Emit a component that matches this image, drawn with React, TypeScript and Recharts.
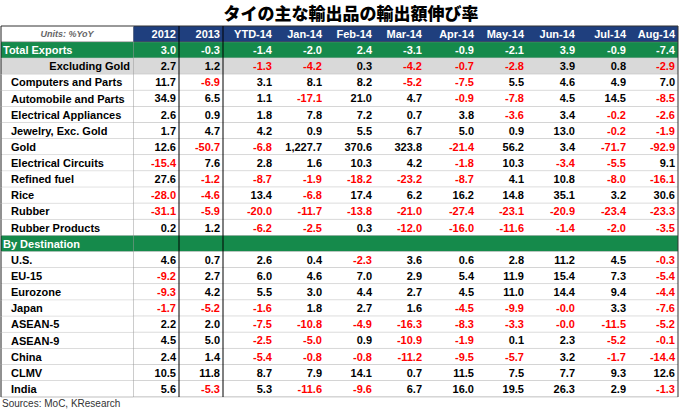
import { BarChart, Bar, XAxis, YAxis, ReferenceLine } from 'recharts';

// column headers
const columns = ['2012', '2013', 'YTD-14', 'Jan-14', 'Feb-14', 'Mar-14', 'Apr-14', 'May-14', 'Jun-14', 'Jul-14', 'Aug-14'];

// row values (%YoY), one array per row
const totalExports = [3.0, -0.3, -1.4, -2.0, 2.4, -3.1, -0.9, -2.1, 3.9, -0.9, -7.4];
const excludingGold = [2.7, 1.2, -1.3, -4.2, 0.3, -4.2, -0.7, -2.8, 3.9, 0.8, -2.9];
const computers = [11.7, -6.9, 3.1, 8.1, 8.2, -5.2, -7.5, 5.5, 4.6, 4.9, 7.0];
const automobile = [34.9, 6.5, 1.1, -17.1, 21.0, 4.7, -0.9, -7.8, 4.5, 14.5, -8.5];
const electricalAppliances = [2.6, 0.9, 1.8, 7.8, 7.2, 0.7, 3.8, -3.6, 3.4, -0.2, -2.6];
const jewelry = [1.7, 4.7, 4.2, 0.9, 5.5, 6.7, 5.0, 0.9, 13.0, -0.2, -1.9];
const gold = [12.6, -50.7, -6.8, 1227.7, 370.6, 323.8, -21.4, 56.2, 3.4, -71.7, -92.9];
const electricalCircuits = [-15.4, 7.6, 2.8, 1.6, 10.3, 4.2, -1.8, 10.3, -3.4, -5.5, 9.1];
const refinedFuel = [27.6, -1.2, -8.7, -1.9, -18.2, -23.2, -8.7, 4.1, 10.8, -8.0, -16.1];
const rice = [-28.0, -4.6, 13.4, -6.8, 17.4, 6.2, 16.2, 14.8, 35.1, 3.2, 30.6];
const rubber = [-31.1, -5.9, -20.0, -11.7, -13.8, -21.0, -27.4, -23.1, -20.9, -23.4, -23.3];
const rubberProducts = [0.2, 1.2, -6.2, -2.5, 0.3, -12.0, -16.0, -11.6, -1.4, -2.0, -3.5];
const us = [4.6, 0.7, 2.6, 0.4, -2.3, 3.6, 0.6, 2.8, 11.2, 4.5, -0.3];
const eu15 = [-9.2, 2.7, 6.0, 4.6, 7.0, 2.9, 5.4, 11.9, 15.4, 7.3, -5.4];
const eurozone = [-9.3, 4.2, 5.5, 3.0, 4.4, 2.7, 4.5, 11.0, 14.4, 9.4, -4.4];
const japan = [-1.7, -5.2, -1.6, 1.8, 2.7, 1.6, -4.5, -9.9, -0.0, 3.3, -7.6];
const asean5 = [2.2, 2.0, -7.5, -10.8, -4.9, -16.3, -8.3, -3.3, -0.0, -11.5, -5.2];
const asean9 = [4.5, 5.0, -2.5, -5.0, 0.9, -10.9, -1.9, 0.1, 2.3, -5.2, -0.1];
const china = [2.4, 1.4, -5.4, -0.8, -0.8, -11.2, -9.5, -5.7, 3.2, -1.7, -14.4];
const clmv = [10.5, 11.8, 8.7, 7.9, 14.1, 0.7, 11.5, 7.5, 7.7, 9.3, 12.6];
const india = [5.6, -5.3, 5.3, -11.6, -9.6, 6.7, 16.0, 19.5, 26.3, 2.9, -1.3];

// column widths in px (style)
const COL_W = [46, 44, 52, 50, 50, 50, 52, 50, 51, 51, 49];
const TOTAL_W = COL_W.reduce((a, b) => a + b, 0);
const TOP = 26;
const BOTTOM = 12;
const ROW_COUNT = 23;
const ROW_H = (409 - TOP - BOTTOM) / ROW_COUNT;
const LABEL_W = 132;
const LEFT = 1;

const NAVY = '#1f3f7e';
const GREEN = '#158a4b';
const GREY = '#d9d9d9';
const LINE = '#bfbfbf';
const FONT = '"Liberation Sans", Arial, sans-serif';

type Kind = 'header' | 'total' | 'sub' | 'item' | 'section';
type Row = { label: string; kind: Kind; values: number[] };

const rows: Row[] = [
  { label: 'Units: %YoY', kind: 'header', values: [] },
  { label: 'Total Exports', kind: 'total', values: totalExports },
  { label: 'Excluding Gold', kind: 'sub', values: excludingGold },
  { label: 'Computers and Parts', kind: 'item', values: computers },
  { label: 'Automobile and Parts', kind: 'item', values: automobile },
  { label: 'Electrical Appliances', kind: 'item', values: electricalAppliances },
  { label: 'Jewelry, Exc. Gold', kind: 'item', values: jewelry },
  { label: 'Gold', kind: 'item', values: gold },
  { label: 'Electrical Circuits', kind: 'item', values: electricalCircuits },
  { label: 'Refined fuel', kind: 'item', values: refinedFuel },
  { label: 'Rice', kind: 'item', values: rice },
  { label: 'Rubber', kind: 'item', values: rubber },
  { label: 'Rubber Products', kind: 'item', values: rubberProducts },
  { label: 'By Destination', kind: 'section', values: [] },
  { label: 'U.S.', kind: 'item', values: us },
  { label: 'EU-15', kind: 'item', values: eu15 },
  { label: 'Eurozone', kind: 'item', values: eurozone },
  { label: 'Japan', kind: 'item', values: japan },
  { label: 'ASEAN-5', kind: 'item', values: asean5 },
  { label: 'ASEAN-9', kind: 'item', values: asean9 },
  { label: 'China', kind: 'item', values: china },
  { label: 'CLMV', kind: 'item', values: clmv },
  { label: 'India', kind: 'item', values: india },
];

// each column is one stacked bar segment
const tableData = rows.map((r) => {
  const o: any = { ...r };
  columns.forEach((_, i) => (o['w' + i] = COL_W[i]));
  return o;
});

const isNeg = (v: number) => v < 0 || Object.is(v, -0);
const fmt = (v: number) =>
  (isNeg(v) ? '-' : '') +
  Math.abs(v).toLocaleString('en-US', { minimumFractionDigits: 1, maximumFractionDigits: 1 });

const rowFill = (k: Kind) =>
  k === 'header' ? NAVY : k === 'total' || k === 'section' ? GREEN : k === 'sub' ? GREY : '#fff';

function renderCell(p: any, col: number) {
  const { x, y, width, height, payload } = p;
  const kind: Kind = payload.kind;
  let text = '';
  let color = '#000';
  if (kind === 'header') {
    text = columns[col];
    color = '#fff';
  } else if (kind !== 'section') {
    const v = payload.values[col];
    text = fmt(v);
    color = kind === 'total' ? '#fff' : isNeg(v) ? '#ff0000' : '#000';
  }
  return (
    <g>
      <rect x={x} y={y} width={width} height={height} fill={rowFill(kind)} />
      <line x1={x} x2={x + width} y1={y + height} y2={y + height} stroke={kind === 'header' ? '#555' : LINE} />
      {kind === 'header' && <line x1={x} x2={x + width} y1={y} y2={y} stroke="#333" />}
      {text && (
        <text
          x={x + width - 3}
          y={y + height / 2}
          dy="0.36em"
          textAnchor="end"
          fill={color}
          fontFamily={FONT}
          fontSize={11}
          fontWeight="bold"
        >
          {text}
        </text>
      )}
    </g>
  );
}

function LabelTick(p: any) {
  const row = rows[p.index];
  if (!row) return null;
  const top = p.y - ROW_H / 2;
  const kind = row.kind;
  let tx = LEFT + 10;
  let anchor: 'start' | 'end' | 'middle' = 'start';
  let color = '#000';
  if (kind === 'total' || kind === 'section') {
    tx = LEFT + 2;
    color = '#fff';
  } else if (kind === 'sub') {
    tx = LEFT + LABEL_W - 3;
    anchor = 'end';
  } else if (kind === 'header') {
    tx = LEFT + LABEL_W / 2;
    anchor = 'middle';
    color = '#666';
  }
  return (
    <g>
      <rect x={LEFT} y={top} width={LABEL_W} height={ROW_H} fill={kind === 'header' ? '#fff' : rowFill(kind)} />
      <line x1={LEFT} x2={LEFT + LABEL_W} y1={top + ROW_H} y2={top + ROW_H} stroke={kind === 'header' ? '#555' : LINE} />
      {kind === 'header' && <line x1={LEFT} x2={LEFT + LABEL_W} y1={top} y2={top} stroke="#333" />}
      <line x1={LEFT} x2={LEFT} y1={top} y2={top + ROW_H} stroke="#222" />
      <text
        x={tx}
        y={p.y}
        dy="0.36em"
        textAnchor={anchor}
        fill={color}
        fontFamily={FONT}
        fontSize={kind === 'header' ? 9 : 11}
        fontWeight="bold"
        fontStyle={kind === 'header' ? 'italic' : 'normal'}
      >
        {row.label}
      </text>
    </g>
  );
}

export default function App() {
  return (
    <div
      style={{
        position: 'absolute',
        left: 0,
        top: 0,
        width: 680,
        height: 409,
        overflow: 'hidden',
        background: '#fff',
      }}
    >
      <div
        style={{
          position: 'absolute',
          left: 180,
          width: 342,
          top: 2,
          textAlign: 'center',
          fontFamily: '"Noto Sans CJK JP", sans-serif',
          fontWeight: 900,
          fontSize: 17,
          lineHeight: '22px',
          color: '#000',
        }}
      >
        タイの主な輸出品の輸出額伸び率
      </div>
      <BarChart
        width={680}
        height={409}
        data={tableData}
        layout="vertical"
        barCategoryGap={0}
        barGap={0}
        margin={{ top: TOP, right: 680 - LEFT - LABEL_W - TOTAL_W, bottom: BOTTOM, left: LEFT }}
      >
        <XAxis type="number" hide domain={[0, TOTAL_W]} />
        <YAxis
          type="category"
          dataKey="label"
          width={LABEL_W}
          interval={0}
          tickLine={false}
          axisLine={false}
          tick={(p: any) => <LabelTick {...p} />}
        />
        {columns.map((c, i) => (
          <Bar
            key={c}
            dataKey={'w' + i}
            stackId="t"
            isAnimationActive={false}
            shape={(p: any) => renderCell(p, i)}
          />
        ))}
        <ReferenceLine x={0} stroke="#999" />
        <ReferenceLine x={COL_W[0]} stroke="#000" />
        <ReferenceLine x={COL_W[0] + COL_W[1]} stroke="#000" />
        <ReferenceLine x={TOTAL_W} stroke="#333" />
      </BarChart>
      <div
        style={{
          position: 'absolute',
          left: 2,
          top: 398,
          fontFamily: FONT,
          fontSize: 10,
          lineHeight: '12px',
          color: '#333',
        }}
      >
        Sources: MoC, KResearch
      </div>
    </div>
  );
}
